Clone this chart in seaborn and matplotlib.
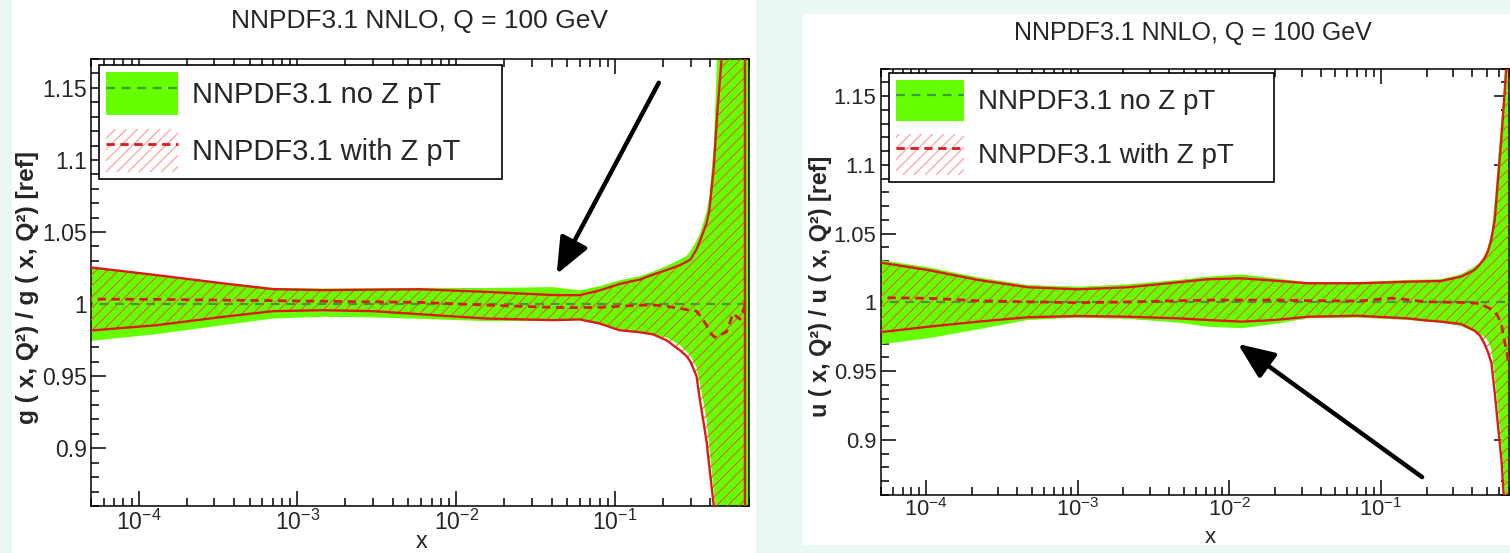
import matplotlib
matplotlib.use("Agg")
import matplotlib.pyplot as plt
import numpy as np
import pandas as pd
import seaborn as sns
from matplotlib.patches import Patch, Rectangle
from matplotlib.lines import Line2D
from matplotlib.ticker import LogLocator, MultipleLocator, NullFormatter

# ---------------------------------------------------------------- text
TITLE = "NNPDF3.1 NNLO, Q = 100 GeV"
LABEL_NOZ = "NNPDF3.1 no Z pT"
LABEL_Z = "NNPDF3.1 with Z pT"
YLABEL_G = "g ( x, Q²) / g ( x, Q²) [ref]"
YLABEL_U = "u ( x, Q²) / u ( x, Q²) [ref]"
XLABEL = "x"
Y_TICKS = [0.9, 0.95, 1.0, 1.05, 1.1, 1.15]
Y_TICK_LABELS = ["0.9", "0.95", "1", "1.05", "1.1", "1.15"]
X_TICKS = [1e-4, 1e-3, 1e-2, 1e-1]
X_TICK_LABELS = [r"$10^{-4}$", r"$10^{-3}$", r"$10^{-2}$", r"$10^{-1}$"]

# reference set: ratio to itself
NOZ_CENTRAL = 1.0

# ---------------------------------------------------------------- gluon
X_G_NOZ = [4.5e-5, 1.3e-4, 3.4e-4, 7e-4, 1.45e-3, 3e-3, 5.9e-3, 0.0155, 0.0408,
           0.060, 0.080, 0.107, 0.144, 0.174, 0.211, 0.257, 0.283, 0.300, 0.327,
           0.344, 0.378, 0.394, 0.420, 0.440, 0.470, 0.506, 0.555, 0.614, 0.660, 0.720]
G_NOZ_UP = [1.0265, 1.0205, 1.0148, 1.0113, 1.0108, 1.0110, 1.0113, 1.0112, 1.0118,
            1.0095, 1.0125, 1.0165, 1.0194, 1.0225, 1.0264, 1.0310, 1.0335, 1.0370, 1.0440,
            1.0490, 1.0640, 1.0750, 1.1100, 1.1700, 1.2600, 1.3800, 1.5500, 1.8000, 2.0000, 2.2000]
G_NOZ_LO = [0.9740, 0.9792, 0.9854, 0.9900, 0.9912, 0.9908, 0.9898, 0.9882, 0.9885,
            0.9889, 0.9868, 0.9825, 0.9805, 0.9785, 0.9769, 0.9715, 0.9670, 0.9640, 0.9560,
            0.9440, 0.9200, 0.9000, 0.8700, 0.8450, 0.8000, 0.7400, 0.6600, 0.5500, 0.4500, 0.3500]

X_G_Z = [4.5e-5, 1.3e-4, 3.4e-4, 7e-4, 1.45e-3, 3e-3, 5.9e-3, 0.0155, 0.0408,
         0.060, 0.080, 0.107, 0.144, 0.174, 0.211, 0.257, 0.283, 0.300, 0.327,
         0.344, 0.378, 0.394, 0.420, 0.440, 0.470, 0.506, 0.555, 0.614, 0.660]
G_Z_CENTRAL = [1.0035, 1.0033, 1.0028, 1.0024, 1.0020, 1.0016, 1.0012, 0.9993, 0.9977,
               0.9976, 0.9978, 0.9985, 0.9992, 0.9994, 0.9985, 0.9970, 0.9962, 0.9958, 0.9951,
               0.9920, 0.9854, 0.9810, 0.9775, 0.9769, 0.9790, 0.9808, 0.9935, 0.9895, 0.9990]
G_Z_UP = [1.0260, 1.0201, 1.0144, 1.0104, 1.0097, 1.0100, 1.0103, 1.0085, 1.0063,
          1.0062, 1.0095, 1.0140, 1.0171, 1.0205, 1.0236, 1.0270, 1.0294, 1.0310, 1.0380,
          1.0440, 1.0560, 1.0650, 1.0950, 1.1300, 1.1700, 1.2300, 1.3200, 1.4500, 1.6000]
G_Z_LO = [0.9813, 0.9854, 0.9912, 0.9951, 0.9958, 0.9951, 0.9930, 0.9900, 0.9889,
          0.9894, 0.9866, 0.9819, 0.9805, 0.9790, 0.9750, 0.9680, 0.9639, 0.9600, 0.9500,
          0.9330, 0.9050, 0.8870, 0.8600, 0.8350, 0.7900, 0.7300, 0.6500, 0.5400, 0.4000]

# ---------------------------------------------------------------- up quark
X_U = [4.5e-5, 1.03e-4, 2.2e-4, 4.7e-4, 1.0e-3, 2.15e-3, 4.6e-3, 7.2e-3, 0.012,
       0.0199, 0.033, 0.0705, 0.1167, 0.150, 0.1936, 0.249, 0.338, 0.414, 0.449,
       0.482, 0.508, 0.536, 0.564, 0.593, 0.624, 0.645, 0.673, 0.690, 0.710]
U_NOZ_UP = [1.0315, 1.0255, 1.0182, 1.0126, 1.0114, 1.0131, 1.0163, 1.0187, 1.0204,
            1.0175, 1.0146, 1.0146, 1.0158, 1.0163, 1.0166, 1.0168, 1.0204, 1.0260, 1.0290,
            1.0340, 1.0400, 1.0510, 1.0740, 1.1035, 1.1320, 1.1520, 1.1850, 1.2050, 1.2300]
U_NOZ_LO = [0.9688, 0.9739, 0.9804, 0.9872, 0.9889, 0.9880, 0.9853, 0.9823, 0.9812,
            0.9843, 0.9884, 0.9889, 0.9878, 0.9872, 0.9862, 0.9853, 0.9828, 0.9785, 0.9770,
            0.9750, 0.9720, 0.9654, 0.9460, 0.9220, 0.8976, 0.8760, 0.8450, 0.8200, 0.7900]
U_Z_CENTRAL = [1.0035, 1.0030, 1.0012, 1.0004, 0.9998, 1.0003, 1.0012, 1.0017, 1.0017,
               1.0017, 1.0013, 1.0010, 1.0030, 1.0020, 1.0005, 1.0002, 1.0000, 0.9995, 0.9990,
               0.9974, 0.9962, 0.9950, 0.9935, 0.9896, 0.9840, 0.9750, 0.9654, 0.9580, 0.9500]
U_Z_UP = [1.0297, 1.0235, 1.0163, 1.0110, 1.0095, 1.0110, 1.0146, 1.0168, 1.0175,
          1.0158, 1.0139, 1.0139, 1.0146, 1.0150, 1.0153, 1.0155, 1.0187, 1.0235, 1.0275,
          1.0320, 1.0370, 1.0460, 1.0600, 1.0900, 1.1200, 1.1420, 1.1720, 1.1900, 1.2150]
U_Z_LO = [0.9778, 0.9823, 0.9860, 0.9892, 0.9901, 0.9896, 0.9884, 0.9872, 0.9860,
          0.9872, 0.9896, 0.9903, 0.9890, 0.9884, 0.9870, 0.9860, 0.9843, 0.9795, 0.9760,
          0.9700, 0.9640, 0.9560, 0.9340, 0.9100, 0.8855, 0.8610, 0.8250, 0.8000, 0.7700]

# arrows pointing at the region of interest: (tail, head) in data coordinates
ARROW_G = ((0.189, 1.1535), (0.043, 1.0208))
ARROW_U = ((0.187, 0.873), (0.0114, 0.9698))

# ---------------------------------------------------------------- style
GREEN = "#66ff00"
GREEN_LINE = "#3c9c3c"
RED = "#dd1a1a"
HATCH_RED = "#e8503a"
PAGE = "#eaf8f5"

sns.set_theme(style="ticks")
plt.rcParams["font.family"] = ["Liberation Sans", "DejaVu Sans"]
plt.rcParams["mathtext.fontset"] = "custom"
plt.rcParams["mathtext.rm"] = "Liberation Sans"
plt.rcParams["mathtext.it"] = "Liberation Sans:italic"
plt.rcParams["mathtext.bf"] = "Liberation Sans:bold"
plt.rcParams["hatch.linewidth"] = 0.7
plt.rcParams["axes.linewidth"] = 1.1

fig = plt.figure(figsize=(15.10, 5.53), dpi=100, facecolor=PAGE)
W, H = 1510.0, 553.0

# white page areas behind each panel
fig.patches.append(Rectangle((12 / W, 0), (756 - 12) / W, 1.0, transform=fig.transFigure,
                             facecolor="white", edgecolor="none", zorder=-10))
fig.patches.append(Rectangle((803 / W, 1 - 545 / H), (1510 - 803) / W, (545 - 14) / H,
                             transform=fig.transFigure, facecolor="white",
                             edgecolor="none", zorder=-10))


def px_axes(left, top, right, bottom):
    return fig.add_axes([left / W, 1 - bottom / H, (right - left) / W, (bottom - top) / H])


def draw_panel(ax, x_noz, up_noz, lo_noz, x_z, c_z, up_z, lo_z, ylabel,
               fs, arrow, legend_anchor, xlabel_pos, ylabel_pos):
    ax.set_xscale("log")
    ax.set_facecolor("white")

    # no Z pT: solid green band with dashed central line
    ax.fill_between(x_noz, lo_noz, up_noz, color=GREEN, lw=0, zorder=1)
    noz = pd.DataFrame({"x": x_noz, "ratio": NOZ_CENTRAL})
    sns.lineplot(data=noz, x="x", y="ratio", ax=ax, color=GREEN_LINE, lw=1.6,
                 linestyle=(0, (4, 3)), zorder=2)

    # with Z pT: hatched band, solid outline and dashed central line
    ax.fill_between(x_z, lo_z, up_z, facecolor="none", edgecolor=HATCH_RED,
                    hatch="///", lw=0, zorder=3)
    outline = pd.DataFrame({"x": list(x_z) + list(x_z)[::-1],
                            "ratio": list(up_z) + list(lo_z)[::-1]})
    sns.lineplot(data=outline, x="x", y="ratio", ax=ax, sort=False, estimator=None,
                 color=RED, lw=1.7, zorder=4)
    zc = pd.DataFrame({"x": x_z, "ratio": c_z})
    sns.lineplot(data=zc, x="x", y="ratio", ax=ax, color=RED, lw=2.0,
                 linestyle=(0, (3, 2)), zorder=5)

    ax.set_xlim(5e-5, 0.70)
    ax.set_ylim(0.86, 1.17)
    ax.set_xticks(X_TICKS, X_TICK_LABELS)
    ax.xaxis.set_minor_locator(LogLocator(base=10, subs=np.arange(2, 10), numticks=20))
    ax.xaxis.set_minor_formatter(NullFormatter())
    ax.set_yticks(Y_TICKS, Y_TICK_LABELS)
    ax.yaxis.set_minor_locator(MultipleLocator(0.01))
    ax.tick_params(which="both", direction="in", top=True, right=True,
                   color="black", width=1.1, labelsize=fs * 0.79, pad=3)
    ax.tick_params(which="major", length=11)
    ax.tick_params(which="minor", length=5.5)
    ax.tick_params(axis="x", which="major", pad=2.5)
    for s in ax.spines.values():
        s.set_color("black")

    ax.set_xlabel(XLABEL, fontsize=fs * 0.8, va="bottom")
    ax.xaxis.set_label_coords(*xlabel_pos)
    ax.set_ylabel(ylabel, fontsize=fs * 0.84, fontweight="bold", va="center")
    ax.yaxis.set_label_coords(*ylabel_pos)

    handles = [
        (Patch(facecolor=GREEN, edgecolor="none"),
         Line2D([], [], color=GREEN_LINE, lw=1.6, linestyle=(0, (4, 3)))),
        (Patch(facecolor="white", edgecolor="#ff8a8a", hatch="///", lw=0),
         Line2D([], [], color=RED, lw=2.0, linestyle=(0, (3, 2)))),
    ]
    leg = ax.legend(handles, [LABEL_NOZ, LABEL_Z], loc="upper left",
                    bbox_to_anchor=legend_anchor, mode="expand", borderaxespad=0,
                    fontsize=fs, handlelength=2.45, handleheight=1.9,
                    handletextpad=0.5, labelspacing=0.45, borderpad=0.25,
                    fancybox=False, framealpha=1.0, edgecolor="black")
    leg.get_frame().set_linewidth(1.2)
    leg.set_zorder(10)

    ax.annotate("", xy=arrow[1], xytext=arrow[0],
                arrowprops=dict(arrowstyle="-|>,head_length=1.0,head_width=0.42",
                                color="black", lw=3.2, mutation_scale=22,
                                shrinkA=0, shrinkB=0), zorder=11)


ax_g = px_axes(91, 59, 749, 506)
draw_panel(ax_g, X_G_NOZ, G_NOZ_UP, G_NOZ_LO, X_G_Z, G_Z_CENTRAL, G_Z_UP, G_Z_LO,
           YLABEL_G, 21, ARROW_G,
           legend_anchor=((99 - 91) / 658, (506 - 176) / 447, (502 - 99) / 658, (176 - 65) / 447),
           xlabel_pos=(0.503, -(553 - 506) / 447), ylabel_pos=(-0.096, 0.488))

ax_u = px_axes(880.5, 68.5, 1509, 495)
draw_panel(ax_u, X_U, U_NOZ_UP, U_NOZ_LO, X_U, U_Z_CENTRAL, U_Z_UP, U_Z_LO,
           YLABEL_U, 20, ARROW_U,
           legend_anchor=((889 - 880.5) / 628.5, (495 - 180) / 426.5, (1274 - 889) / 628.5, (180 - 73) / 426.5),
           xlabel_pos=(0.524, -(548 - 495) / 426.5), ylabel_pos=(-0.095, 0.489))

fig.text(420 / W, 1 - 21 / H, TITLE, ha="center", va="center", fontsize=19)
fig.text(1193 / W, 1 - 33 / H, TITLE, ha="center", va="center", fontsize=18)

fig.savefig("out.png", dpi=100, facecolor=PAGE)
